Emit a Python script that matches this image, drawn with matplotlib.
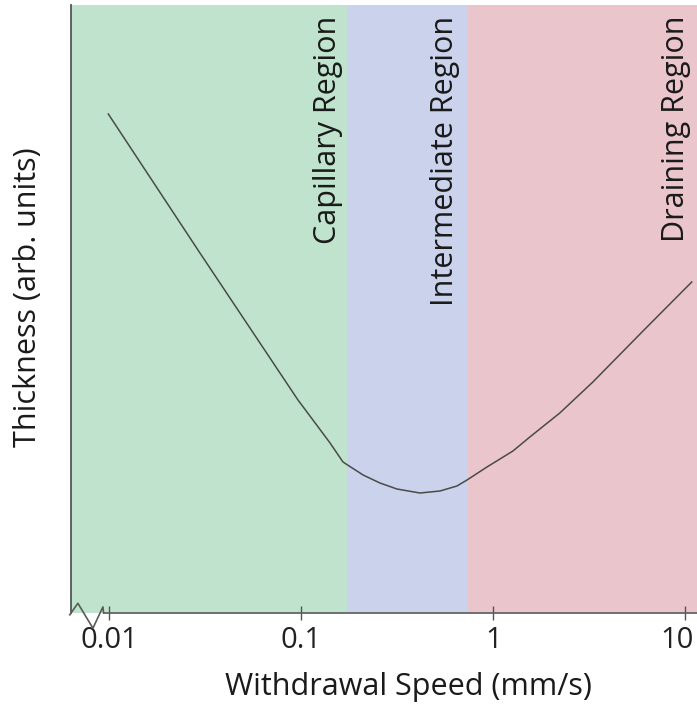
import matplotlib
matplotlib.use("Agg")
import matplotlib.pyplot as plt
from matplotlib.ticker import FixedLocator, FixedFormatter, NullLocator
from matplotlib.transforms import ScaledTranslation

plt.rcParams['font.family'] = ['Open Sans', 'DejaVu Sans']

# curve (withdrawal speed in mm/s, thickness in arb. units)
speed = [0.0099, 0.0297, 0.0962, 0.1151, 0.1413, 0.165, 0.210, 0.257, 0.315,
         0.415, 0.528, 0.647, 0.730, 0.927, 1.266, 1.55, 2.22, 3.30, 6.02, 10.8]
thickness = [4.99, 3.60, 2.13, 1.93, 1.70, 1.51, 1.38, 1.30, 1.24,
             1.20, 1.22, 1.27, 1.33, 1.46, 1.62, 1.76, 2.00, 2.31, 2.82, 3.31]

# shaded regions
region_names = ['Capillary Region', 'Intermediate Region', 'Draining Region']
region_edges = [0.00633, 0.173, 0.738, 11.5]
region_colors = ['#bfe3cc', '#cad3eb', '#eac6cc']
label_x = [0.138, 0.56, 8.9]

tick_values = [0.01, 0.1, 1, 10]
tick_labels = ['0.01', '0.1', '1', '10']

fig = plt.figure(figsize=(6.97, 7.09), dpi=100)
ax = fig.add_axes([71 / 697, 96 / 709, 626 / 697, 608 / 709])

ax.set_xscale('log')
ax.set_xlim(region_edges[0], region_edges[-1])
ax.set_ylim(0, 6.08)

for i, name in enumerate(region_names):
    ax.axvspan(region_edges[i], region_edges[i + 1], color=region_colors[i], lw=0, zorder=0)
    ax.text(label_x[i], 5.97, name, rotation=90, ha='center', va='top',
            fontsize=22, color='#1a1a1a')

ax.plot(speed, thickness, color='#4a4a4a', lw=1.1, zorder=3)

# axes styling
ax.xaxis.set_major_locator(FixedLocator(tick_values))
ax.xaxis.set_major_formatter(FixedFormatter(tick_labels))
ax.xaxis.set_minor_locator(NullLocator())
ax.set_yticks([])
ax.tick_params(axis='x', direction='inout', length=10, width=1, color='#555555',
               labelsize=21, labelcolor='#222222', pad=4)
for s in ['top', 'right', 'bottom']:
    ax.spines[s].set_visible(False)
ax.spines['left'].set_color('#555555')
ax.spines['left'].set_linewidth(1.3)

# keep the last tick label inside the figure
fig.canvas.draw()
last = ax.get_xticklabels()[-1]
last.set_transform(last.get_transform() + ScaledTranslation(-8 / 100, 0, fig.dpi_scale_trans))

# bottom axis line with a break mark near the origin
ax.plot([0.052, 1.0], [0, 0], transform=ax.transAxes, color='#5a5a5a', lw=1.2,
        clip_on=False, zorder=4)
ax.plot([-0.002, 0.011, 0.035, 0.051, 0.052], [-0.003, 0.016, -0.025, 0.010, 0.0],
        transform=ax.transAxes, color='#5a5a5a', lw=1.2, clip_on=False, zorder=4)

fig.text(28 / 697, 1 - 297 / 709, 'Thickness (arb. units)', rotation=90,
         ha='center', va='center', fontsize=22, color='#1a1a1a')
fig.text(408 / 697, 1 - 695 / 709, 'Withdrawal Speed (mm/s)', ha='center', va='baseline',
         fontsize=22, color='#1a1a1a')

fig.savefig('out.png', dpi=100)
